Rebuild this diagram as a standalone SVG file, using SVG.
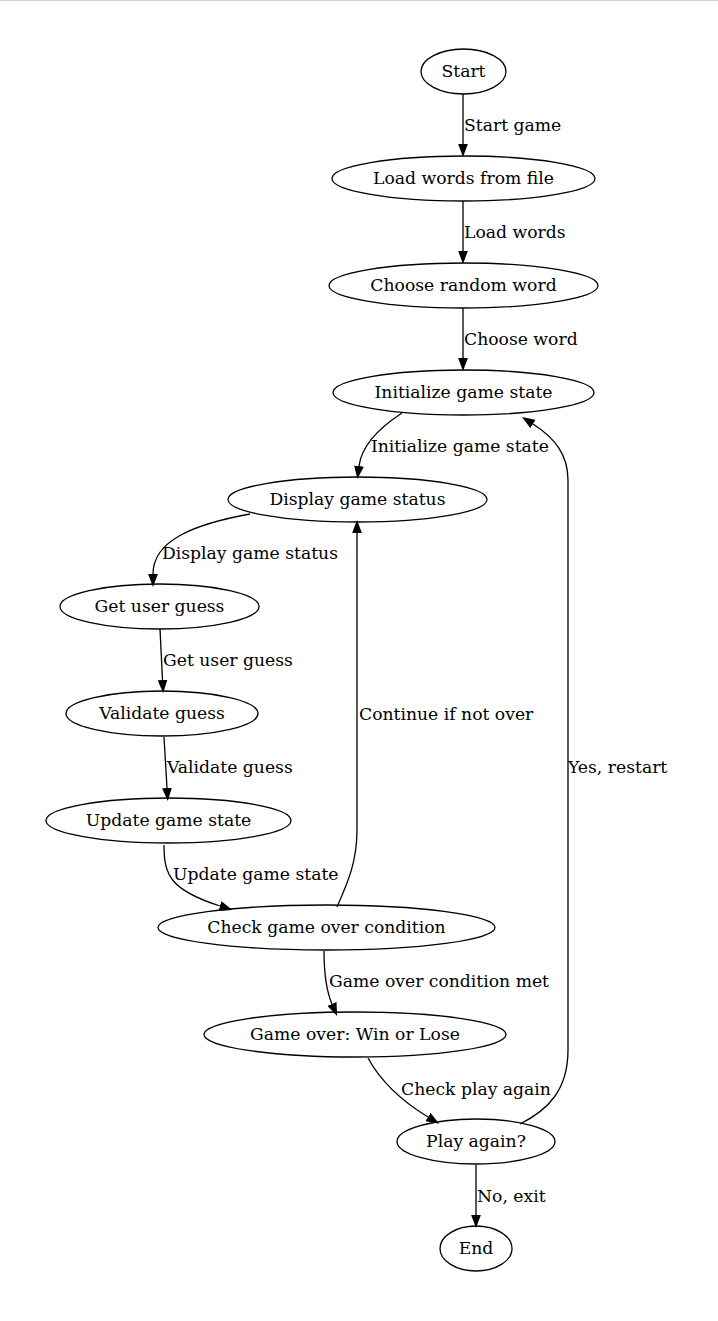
<svg xmlns="http://www.w3.org/2000/svg" width="718" height="1321" viewBox="0 0 718 1321">
<defs>
<style>
.n ellipse{fill:none;stroke:#000;stroke-width:1.3}
text{font-family:"DejaVu Serif","Liberation Serif",serif;font-size:17.2px;fill:#000}
.n text{text-anchor:middle}
.e path{fill:none;stroke:#000;stroke-width:1.3;marker-end:url(#ah)}
</style>
<marker id="ah" markerUnits="userSpaceOnUse" markerWidth="13" markerHeight="10" viewBox="0 0 12.5 9.4" refX="0" refY="4.7" orient="auto">
<path d="M0,0 L12.5,4.7 L0,9.4 Z" fill="#000"/>
</marker>
</defs>
<rect x="0" y="0" width="718" height="1321" fill="#fff"/>
<rect x="0" y="0" width="718" height="1.2" fill="#d4d4d4"/>
<g class="e" id="edges">
<path d="M463,94 L463,144"/>
<path d="M463,201 L463,251"/>
<path d="M463,308 L463,358"/>
<path d="M402,413 C382,426 362,443 359,466"/>
<path d="M250,514 C195,524 153,540 153,574"/>
<path d="M160,629 L162.5,680"/>
<path d="M164,737 L167,788"/>
<path d="M164,845 C164,875 170,890 220,906"/>
<path d="M337,907 C349,880 357,860 357,830 L357,533"/>
<path d="M324,951 C324,970 326,990 332,1004"/>
<path d="M368,1058 C380,1080 400,1100 428,1117"/>
<path d="M520,1124 C548,1110 568,1090 568,1050 L568,480 C568,455 555,438 533,424"/>
<path d="M476,1165 L476,1215"/>
</g>
<g id="edge-labels">
<text x="464" y="131">Start game</text>
<text x="464" y="238">Load words</text>
<text x="464" y="345">Choose word</text>
<text x="371" y="452">Initialize game state</text>
<text x="162" y="559">Display game status</text>
<text x="163" y="666">Get user guess</text>
<text x="167" y="773">Validate guess</text>
<text x="173" y="880">Update game state</text>
<text x="359" y="720">Continue if not over</text>
<text x="329" y="987">Game over condition met</text>
<text x="401" y="1095">Check play again</text>
<text x="568" y="773">Yes, restart</text>
<text x="477" y="1202">No, exit</text>
</g>
<g class="n" id="start"><ellipse cx="463.5" cy="71.5" rx="42.5" ry="22.5"/><text x="463.5" y="77">Start</text></g>
<g class="n" id="load"><ellipse cx="463.5" cy="178.5" rx="131.5" ry="22.5"/><text x="463.5" y="184">Load words from file</text></g>
<g class="n" id="choose"><ellipse cx="463.5" cy="285.5" rx="134.5" ry="22.5"/><text x="463.5" y="291">Choose random word</text></g>
<g class="n" id="init"><ellipse cx="463.5" cy="392.5" rx="130.5" ry="22.5"/><text x="463.5" y="398">Initialize game state</text></g>
<g class="n" id="display"><ellipse cx="357.5" cy="499.5" rx="129.5" ry="22.5"/><text x="357.5" y="505">Display game status</text></g>
<g class="n" id="getguess"><ellipse cx="159.5" cy="606.5" rx="99.5" ry="22.5"/><text x="159.5" y="612">Get user guess</text></g>
<g class="n" id="validate"><ellipse cx="162" cy="713.5" rx="96" ry="22.5"/><text x="162" y="719">Validate guess</text></g>
<g class="n" id="update"><ellipse cx="168.5" cy="820.5" rx="122.5" ry="22.5"/><text x="168.5" y="826">Update game state</text></g>
<g class="n" id="check"><ellipse cx="326.5" cy="927.5" rx="168.5" ry="22.5"/><text x="326.5" y="933">Check game over condition</text></g>
<g class="n" id="gameover"><ellipse cx="355" cy="1034.5" rx="151" ry="22.5"/><text x="355" y="1040">Game over: Win or Lose</text></g>
<g class="n" id="playagain"><ellipse cx="476" cy="1141.5" rx="79" ry="22.5"/><text x="476" y="1147">Play again?</text></g>
<g class="n" id="end"><ellipse cx="476" cy="1248.5" rx="36" ry="22.5"/><text x="476" y="1254">End</text></g>
</svg>
